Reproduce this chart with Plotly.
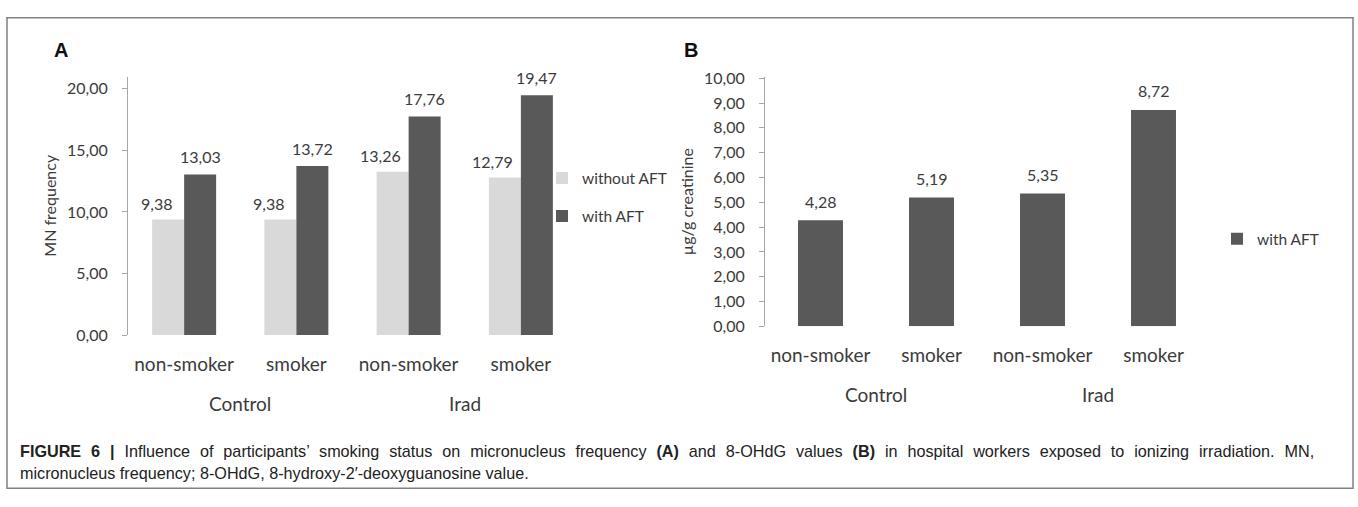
import plotly.graph_objects as go

W, H = 1358, 507

# ---------------- data ----------------
categories = ["non-smoker", "smoker", "non-smoker", "smoker"]
groups = ["Control", "Irad"]
group_centers = [0.5, 2.5]
mn_without_aft = [9.38, 9.38, 13.26, 12.79]
mn_with_aft = [13.03, 13.72, 17.76, 19.47]
ohdg_with_aft = [4.28, 5.19, 5.35, 8.72]
ticks_a = [0, 5, 10, 15, 20]
ticks_b = [0, 1, 2, 3, 4, 5, 6, 7, 8, 9, 10]
caption_words1 = ["<b>FIGURE", "6", "|</b>", "Influence", "of", "participants’", "smoking", "status", "on",
                  "micronucleus", "frequency", "<b>(A)</b>", "and", "8-OHdG", "values", "<b>(B)</b>", "in",
                  "hospital", "workers", "exposed", "to", "ionizing", "irradiation.", "MN,"]
caption_line2 = "micronucleus frequency; 8-OHdG, 8-hydroxy-2′-deoxyguanosine value."


def fx(px):
    return px / W


def fy(py):
    return 1 - py / H


FONT = "Lato, 'Open Sans', sans-serif"
CAPFONT = "'Liberation Sans', Arial, sans-serif"
TXT = "#3b3b3b"
LIGHT = "#d9d9d9"
DARK = "#595959"
AXC = "#a6a6a6"

xs = list(range(len(categories)))
BW_A = 0.285
BW_B = 0.405

fig = go.Figure()

fig.add_trace(go.Bar(x=xs, y=mn_without_aft, width=BW_A, offset=-BW_A, name="without AFT",
                     marker=dict(color=LIGHT, line=dict(width=0)), xaxis="x", yaxis="y",
                     legend="legend", legendgroup="a1"))
fig.add_trace(go.Bar(x=xs, y=mn_with_aft, width=BW_A, offset=0, name="with AFT",
                     marker=dict(color=DARK, line=dict(width=0)), xaxis="x", yaxis="y",
                     legend="legend", legendgroup="a2"))
fig.add_trace(go.Bar(x=xs, y=ohdg_with_aft, width=BW_B, offset=-BW_B / 2, name="with AFT",
                     marker=dict(color=DARK, line=dict(width=0)), xaxis="x2", yaxis="y2",
                     legend="legend2", legendgroup="b1"))


def fmt(v):
    return f"{v:.2f}".replace(".", ",")


annotations = []
for vals, off, bw, xr, yr, dx, dy in [
    (mn_without_aft, -BW_A, BW_A, "x", "y", -12, 16),
    (mn_with_aft, 0, BW_A, "x", "y", 0, 18),
    (ohdg_with_aft, -BW_B / 2, BW_B, "x2", "y2", 0, 19),
]:
    for i, v in enumerate(vals):
        annotations.append(dict(x=xs[i] + off + bw / 2, y=v, xref=xr, yref=yr, text=fmt(v),
                                showarrow=False, yanchor="middle", yshift=dy, xshift=dx,
                                font=dict(family=FONT, size=16, color=TXT)))

for xr, ypx in [("x", 409), ("x2", 400)]:
    for g, c in zip(groups, group_centers):
        annotations.append(dict(x=c, y=fy(ypx), xref=xr, yref="paper", text=g, showarrow=False,
                                yanchor="middle", font=dict(family=FONT, size=19, color=TXT)))

annotations.append(dict(x=fx(52), y=fy(43), xref="paper", yref="paper", text="<b>A</b>",
                        showarrow=False, xanchor="left", yanchor="middle",
                        font=dict(family=CAPFONT, size=20, color="#111")))
annotations.append(dict(x=fx(682), y=fy(43), xref="paper", yref="paper", text="<b>B</b>",
                        showarrow=False, xanchor="left", yanchor="middle",
                        font=dict(family=CAPFONT, size=20, color="#111")))
# first caption line is justified in the original: widen the word gaps
annotations.append(dict(x=fx(18), y=fy(458), xref="paper", yref="paper",
                        text=" \u2004".join(caption_words1),
                        showarrow=False, xanchor="left", yanchor="middle",
                        font=dict(family=CAPFONT, size=16.2, color="#222")))
annotations.append(dict(x=fx(18), y=fy(481), xref="paper", yref="paper", text=caption_line2,
                        showarrow=False, xanchor="left", yanchor="middle",
                        font=dict(family=CAPFONT, size=16.2, color="#222")))

xcommon = dict(range=[-0.5, 3.5], tickvals=xs, ticktext=categories, showline=False, ticks="",
               showgrid=False, zeroline=False, tickfont=dict(family=FONT, size=19, color=TXT),
               ticklabelstandoff=16, fixedrange=True)
ycommon = dict(tickformat=".2f", showline=True, linecolor=AXC, linewidth=1, ticks="outside",
               ticklen=5, tickcolor=AXC, showgrid=False, zeroline=False,
               tickfont=dict(family=FONT, size=16, color=TXT), ticklabelstandoff=11)

fig.update_layout(
    width=W, height=H,
    margin=dict(l=0, r=0, t=0, b=0),
    paper_bgcolor="white", plot_bgcolor="white",
    separators=", ",
    barmode="overlay",
    showlegend=True,
    xaxis=dict(domain=[fx(128), fx(577)], anchor="y", **xcommon),
    yaxis=dict(domain=[fy(338), fy(70)], range=[0, 21], tickvals=ticks_a, anchor="x",
               title=dict(text="MN frequency", font=dict(family=FONT, size=16, color=TXT), standoff=6),
               **ycommon),
    xaxis2=dict(domain=[fx(765), fx(1209)], anchor="y2", **xcommon),
    yaxis2=dict(domain=[fy(329), fy(70.5)], range=[0, 10.05], tickvals=ticks_b, anchor="x2",
                title=dict(text="µg/g creatinine", font=dict(family=FONT, size=16, color=TXT), standoff=6),
                **ycommon),
    legend=dict(x=fx(542), y=fy(158), xanchor="left", yanchor="top", bgcolor="rgba(0,0,0,0)",
                font=dict(family=FONT, size=15.5, color=TXT), tracegroupgap=15),
    legend2=dict(x=fx(1217), y=fy(221), xanchor="left", yanchor="top", bgcolor="rgba(0,0,0,0)",
                 font=dict(family=FONT, size=15.5, color=TXT)),
    annotations=annotations,
    shapes=[dict(type="rect", xref="paper", yref="paper", x0=fx(7), x1=fx(1353), y0=fy(497), y1=fy(9),
                 line=dict(color="#808080", width=1.5), fillcolor="rgba(0,0,0,0)", layer="below")],
)

fig.write_html("out.html", config={"displayModeBar": False},
               post_script="document.body.style.margin='0';document.body.style.padding='0';")
